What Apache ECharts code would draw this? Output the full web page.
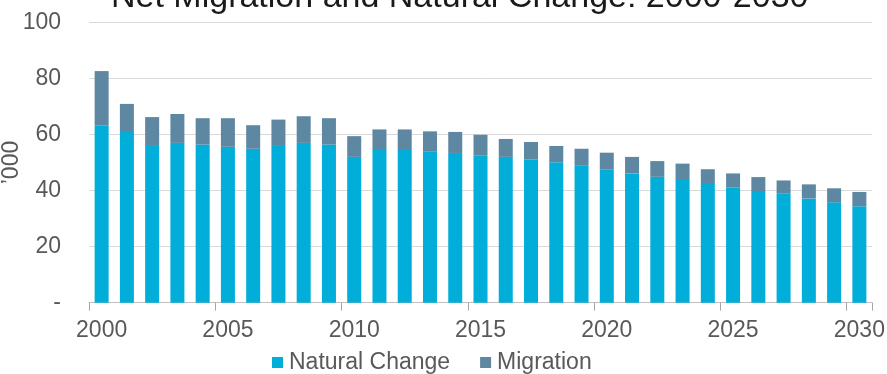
<!DOCTYPE html>
<html>
<head>
<meta charset="utf-8">
<script src="https://cdn.jsdelivr.net/npm/echarts@6/dist/echarts.min.js"></script>
<style>
  html, body { margin: 0; padding: 0; background: #fff; }
  #chart { width: 887px; height: 374px; }
</style>
</head>
<body>
<div id="chart"></div>
<script>
// Years shown on the category axis
const years = [
  '2000','2001','2002','2003','2004','2005','2006','2007','2008','2009',
  '2010','2011','2012','2013','2014','2015','2016','2017','2018','2019',
  '2020','2021','2022','2023','2024','2025','2026','2027','2028','2029','2030'
];

// Natural change (births minus deaths), thousands
const naturalChange = [
  63.3, 61.2, 55.9, 57.0, 56.4, 55.6, 54.9, 55.9, 57.0, 56.4,
  52.0, 54.8, 54.8, 54.0, 53.4, 52.6, 52.0, 51.0, 50.1, 49.0,
  47.6, 46.1, 44.9, 44.1, 42.7, 41.2, 39.8, 38.9, 37.2, 35.8, 34.4
];

// Net migration, thousands
const migration = [
  19.3, 9.7, 10.3, 10.3, 9.4, 10.2, 8.4, 9.4, 9.5, 9.4,
  7.4, 7.0, 7.0, 7.1, 7.5, 7.3, 6.4, 6.3, 5.8, 5.9,
  5.9, 5.9, 5.6, 5.5, 4.9, 4.9, 5.0, 4.7, 5.0, 5.0, 5.1
];

// Value axis ticks
const yTicks = { min: 0, max: 100, interval: 20 };

const FONT = "'Liberation Sans', Arial, sans-serif";
const LABEL_COLOR = '#595959';

const chart = echarts.init(document.getElementById('chart'), null, { renderer: 'canvas' });

chart.setOption({
  animation: false,
  backgroundColor: '#ffffff',
  title: {
    text: 'Net Migration and Natural Change: 2000-2030',
    left: 111,
    top: -19,
    padding: 0,
    textStyle: { fontFamily: FONT, fontSize: 34, fontWeight: 'normal', color: '#1a1a1a' }
  },
  legend: {
    data: ['Natural Change', 'Migration'],
    left: 272,
    top: 351,
    padding: 0,
    icon: 'rect',
    itemWidth: 11,
    itemHeight: 11,
    itemGap: 30,
    textStyle: { fontFamily: FONT, fontSize: 23, color: LABEL_COLOR, padding: [0, 0, 0, 1] }
  },
  grid: {
    left: 89, right: 15, top: 22.3, bottom: 71.3,
    containLabel: false,
    outerBoundsMode: 'none'
  },
  xAxis: {
    type: 'category',
    data: years,
    boundaryGap: true,
    axisLine: { lineStyle: { color: '#bfbfbf', width: 1 } },
    axisTick: { show: true, interval: 4, length: 8, lineStyle: { color: '#a6a6a6', width: 1 } },
    axisLabel: { interval: 4, margin: 16, fontFamily: FONT, fontSize: 23, color: LABEL_COLOR }
  },
  yAxis: {
    type: 'value',
    min: yTicks.min,
    max: yTicks.max,
    interval: yTicks.interval,
    name: '\u2019000',
    nameLocation: 'middle',
    nameRotate: 90,
    nameGap: 66,
    nameMoveOverlap: false,
    nameTextStyle: { fontFamily: FONT, fontSize: 23, color: LABEL_COLOR },
    axisLine: { show: false },
    axisTick: { show: false },
    splitLine: { lineStyle: { color: '#d9d9d9', width: 1 } },
    axisLabel: {
      margin: 28,
      fontFamily: FONT,
      fontSize: 23,
      color: LABEL_COLOR,
      formatter: v => (v === 0 ? '-' : String(v))
    }
  },
  series: [
    {
      name: 'Natural Change',
      type: 'bar',
      stack: 'total',
      data: naturalChange,
      barWidth: 14,
      itemStyle: { color: '#00aed9' }
    },
    {
      name: 'Migration',
      type: 'bar',
      stack: 'total',
      data: migration,
      barWidth: 14,
      itemStyle: { color: '#5e87a2' }
    }
  ]
});
</script>
</body>
</html>
